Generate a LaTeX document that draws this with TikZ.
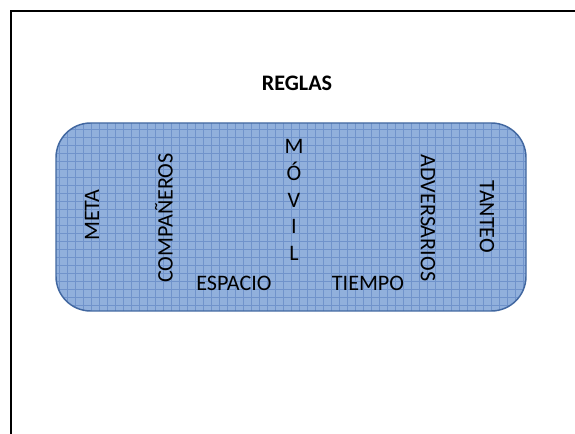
\documentclass[tikz,border=0pt]{standalone}
\usepackage{fontspec}
\setmainfont{Carlito}
\usetikzlibrary{positioning}

\definecolor{fieldfill}{RGB}{145,176,220}
\definecolor{fieldgrid}{RGB}{112,147,203}
\definecolor{fielddraw}{RGB}{65,103,160}

\begin{document}
\begin{tikzpicture}[x=0.75pt,y=-0.75pt,
                    word node/.style={font=\fontsize{16.6}{20}\selectfont,inner sep=0pt},
                    up node/.style={word node,rotate=90},
                    down node/.style={word node,rotate=-90}
                   ]
  \useasboundingbox (0,0) rectangle (575,434);
  % marco de la pagina
  \draw[line width=1.5pt] (11,434) -- (11,11) -- (575,11);

  \node[font=\fontsize{16.6}{20}\selectfont\bfseries] (reglas) at (297,83) {REGLAS};

  % campo de juego
  \node[draw=fielddraw,line width=1.1pt,fill=fieldfill,rounded corners=26pt,
        minimum width=352.5pt,minimum height=141pt,
        path picture={\draw[fieldgrid,line width=0.5pt]
          (path picture bounding box.south west) grid[step=6pt]
          (path picture bounding box.north east);}] (campo) at (291,217) {};

  \node[up node] (meta) at (92,215) {META};
  \node[up node] (companeros) at (164,218) {COMPAÑEROS};
  \node[word node] (espacio) at (234,283) {ESPACIO};
  \node[word node,align=center] (movil) at (294,200) {M\\Ó\\V\\I\\L};
  \node[word node] (tiempo) at (368,283) {TIEMPO};
  \node[down node] (adversarios) at (428,218) {ADVERSARIOS};
  \node[down node] (tanteo) at (487,217) {TANTEO};
\end{tikzpicture}
\end{document}
